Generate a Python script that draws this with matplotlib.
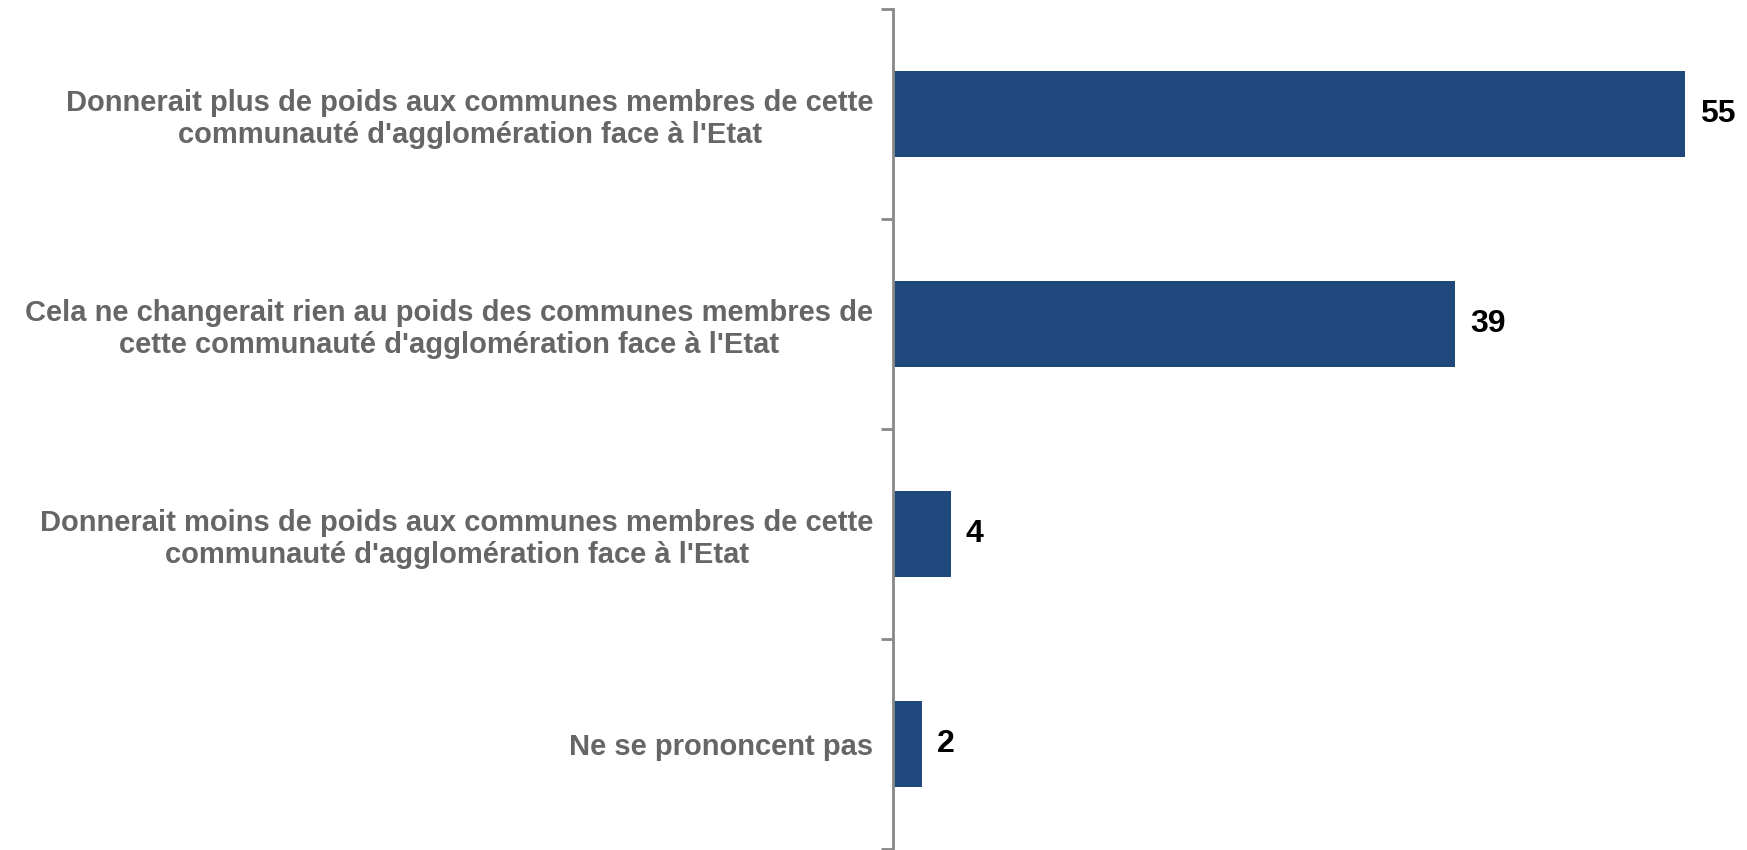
import matplotlib
matplotlib.use("Agg")
import matplotlib.pyplot as plt
import numpy as np

categories = [
    "Donnerait plus de poids aux communes membres de cette\ncommunauté d'agglomération face à l'Etat",
    "Cela ne changerait rien au poids des communes membres de\ncette communauté d'agglomération face à l'Etat",
    "Donnerait moins de poids aux communes membres de cette\ncommunauté d'agglomération face à l'Etat",
    "Ne se prononcent pas",
]
values = [55, 39, 4, 2]

plt.rcParams['font.family'] = ['Liberation Sans', 'DejaVu Sans']

W, H = 1747, 850
fig = plt.figure(figsize=(W / 100, H / 100), dpi=100)
left = 893 / W
bottom = 1 / H
top = 9 / H
ax = fig.add_axes([left, bottom, 1 - left, 1 - bottom - top])

y = np.arange(len(categories))
ax.barh(y, values, height=0.405, color='#1F497D')
ax.set_ylim(len(categories) - 0.5, -0.5)
ax.set_xlim(0, 854 / 14.4)

for yi, v in zip(y, values):
    ax.annotate(str(v), (v, yi), xytext=(11, 0), textcoords='offset points',
                ha='left', va='center', fontsize=23, fontweight='bold', color='black')

ax.set_yticks(y)
ax.set_yticklabels(categories, fontsize=21, fontweight='bold', color='#666666',
                   ma='center', linespacing=1.2)
ax.tick_params(axis='y', which='major', length=0, pad=14)
ax.set_yticks(np.arange(-0.5, len(categories)), minor=True)
ax.tick_params(axis='y', which='minor', length=9, width=2, color='#888888')

ax.set_xticks([])
for s in ['top', 'right', 'bottom']:
    ax.spines[s].set_visible(False)
ax.spines['left'].set_color('#888888')
ax.spines['left'].set_linewidth(2)

fig.savefig('out.png', dpi=100)
